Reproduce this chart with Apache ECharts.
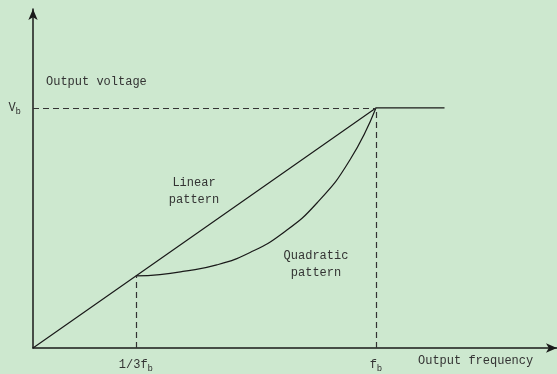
<!DOCTYPE html>
<html>
<head>
<meta charset="utf-8">
<style>
  html, body { margin: 0; padding: 0; background: #cde8cf; }
  #chart { width: 557px; height: 374px; }
</style>
<script src="https://cdn.jsdelivr.net/npm/echarts@6/dist/echarts.min.js"></script>
</head>
<body>
<div id="chart"></div>
<script>
// V/f characteristic: output voltage (per unit of Vb) against output frequency (per unit of fb)
const linearPattern = [[0, 0], [1, 1], [1.2, 1]];
const quadraticPattern = [
  [0.3, 0.3], [0.37, 0.306], [0.437, 0.319], [0.536, 0.346], [0.633, 0.398],
  [0.729, 0.479], [0.828, 0.604], [0.924, 0.783], [1, 1]
];
const baseVoltage = 1;      // Vb
const baseFrequency = 1;    // fb
const startFrequency = 0.3; // 1/3 fb
const xTickLabels = ['1/3f', 'f'];
const yTickLabels = ['V'];
const subscript = 'b';

const textFont = '"Liberation Mono", "DejaVu Sans Mono", monospace';
const ink = '#1a1a1a';
const textColor = '#333';

const chart = echarts.init(document.getElementById('chart'));

const richLabel = {
  a: { fontFamily: textFont, fontSize: 12, color: textColor, lineHeight: 14 },
  s: { fontFamily: textFont, fontSize: 9, color: textColor, padding: [7, 0, 0, 0] }
};

const guide = (a, b) => [{ coord: a }, { coord: b }];

chart.setOption({
  backgroundColor: '#cde8cf',
  animation: false,
  grid: { left: 33, right: 0, top: 9, bottom: 26 },
  xAxis: {
    type: 'value', min: 0, max: 1.528,
    axisLine: { show: true, onZero: false, symbol: ['none', 'arrow'], symbolSize: [7, 11],
      lineStyle: { color: ink, width: 1.5 } },
    axisTick: { show: false },
    splitLine: { show: false },
    axisLabel: {
      customValues: [startFrequency, baseFrequency],
      margin: 9,
      formatter: v => Math.abs(v - baseFrequency) < 1e-6
        ? '{a|' + xTickLabels[1] + '}{s|' + subscript + '}'
        : '{a|' + xTickLabels[0] + '}{s|' + subscript + '}',
      rich: richLabel
    }
  },
  yAxis: {
    type: 'value', min: 0, max: 1.412,
    axisLine: { show: true, onZero: false, symbol: ['none', 'arrow'], symbolSize: [7, 11],
      lineStyle: { color: ink, width: 1.5 } },
    axisTick: { show: false },
    splitLine: { show: false },
    axisLabel: {
      customValues: [baseVoltage],
      margin: 12,
      formatter: () => '{a|' + yTickLabels[0] + '}{s|' + subscript + '}',
      rich: richLabel
    }
  },
  series: [
    {
      name: 'Linear pattern', type: 'line', data: linearPattern,
      symbol: 'none', lineStyle: { color: ink, width: 1.2 },
      markLine: {
        silent: true, symbol: 'none', label: { show: false },
        lineStyle: { color: '#333', width: 1.2, type: [6, 4] },
        data: [
          guide([0, baseVoltage], [baseFrequency, baseVoltage]),
          guide([startFrequency, 0], [startFrequency, startFrequency]),
          guide([baseFrequency, 0], [baseFrequency, baseVoltage])
        ]
      }
    },
    {
      name: 'Quadratic pattern', type: 'line', data: quadraticPattern,
      symbol: 'none', smooth: 0.5,
      lineStyle: { color: ink, width: 1.2 }
    }
  ],
  graphic: [
    { type: 'text', left: 46, top: 76,
      style: { text: 'Output voltage', font: '12px ' + textFont, fill: textColor } },
    { type: 'text', left: 418, top: 355,
      style: { text: 'Output frequency', font: '12px ' + textFont, fill: textColor } },
    { type: 'text', x: 194, y: 174,
      style: { text: 'Linear\npattern', font: '12px ' + textFont, fill: textColor,
        align: 'center', lineHeight: 17 } },
    { type: 'text', x: 316, y: 247,
      style: { text: 'Quadratic\npattern', font: '12px ' + textFont, fill: textColor,
        align: 'center', lineHeight: 17 } }
  ]
});
</script>
</body>
</html>
